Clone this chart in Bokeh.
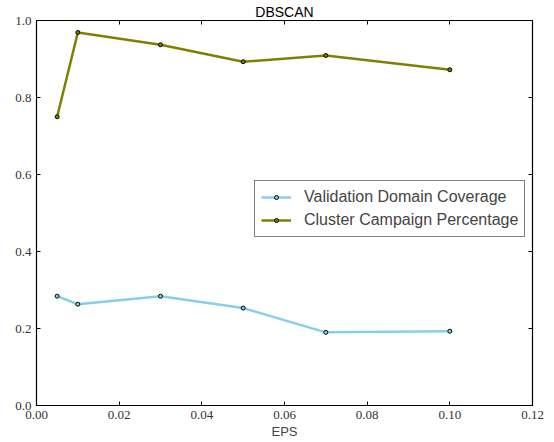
from bokeh.plotting import figure
from bokeh.models import (Range1d, LinearAxis, FixedTicker, Legend, LegendItem,
                          PrintfTickFormatter)
from bokeh.embed import file_html
from bokeh.resources import INLINE

eps = [0.005, 0.01, 0.03, 0.05, 0.07, 0.1]
validation_coverage = [0.284, 0.263, 0.284, 0.253, 0.190, 0.193]
cluster_percentage = [0.750, 0.969, 0.937, 0.893, 0.909, 0.872]
x_ticks = [0.0, 0.02, 0.04, 0.06, 0.08, 0.10, 0.12]
y_ticks = [0.0, 0.2, 0.4, 0.6, 0.8, 1.0]

p = figure(width=554, height=442, output_backend="svg", toolbar_location=None,
           x_range=Range1d(0, 0.12), y_range=Range1d(0, 1.0),
           x_axis_location=None, y_axis_location=None,
           min_border_left=36, min_border_right=22, min_border_bottom=37, min_border_top=0)
p.title.text = "DBSCAN"
p.title.align = "center"
p.title.text_font = "Liberation Sans"
p.title.text_font_style = "normal"
p.title.text_font_size = "14px"
p.title.text_color = "black"
p.title.standoff = 2
p.xgrid.visible = False
p.ygrid.visible = False
p.outline_line_color = "black"
p.outline_line_width = 1.2
p.background_fill_color = "white"
p.border_fill_color = "white"

def make_axis(ticks, fmt, labels=True):
    ax = LinearAxis(ticker=FixedTicker(ticks=ticks), formatter=PrintfTickFormatter(format=fmt),
                    major_tick_in=4, major_tick_out=0, minor_tick_in=0, minor_tick_out=0,
                    axis_line_color="black", major_tick_line_color="black",
                    major_label_text_font="Liberation Serif",
                    major_label_text_font_size="13px" if labels else "0px",
                    major_label_text_color="#333333",
                    major_label_standoff=5 if labels else 0)
    if not labels:
        ax.major_label_text_alpha = 0
    return ax

xb = make_axis(x_ticks, "%.2f")
xb.axis_label = "EPS"
xb.axis_label_text_font = "Liberation Sans"
xb.axis_label_text_font_style = "normal"
xb.axis_label_text_font_size = "13px"
xb.axis_label_standoff = 2
p.add_layout(xb, "below")

yl = make_axis(y_ticks, "%.1f")
p.add_layout(yl, "left")

p.add_layout(make_axis(x_ticks, "%.2f", labels=False), "above")
p.add_layout(make_axis(y_ticks, "%.1f", labels=False), "right")

l1 = p.line(eps, validation_coverage, line_color="#87CEEB", line_width=2.5)
s1 = p.scatter(eps, validation_coverage, size=4, fill_color="#87CEEB", line_color="black", line_width=1)
l2 = p.line(eps, cluster_percentage, line_color="#808000", line_width=2.5)
s2 = p.scatter(eps, cluster_percentage, size=4, fill_color="#808000", line_color="black", line_width=1)

legend = Legend(items=[LegendItem(label="Validation Domain Coverage", renderers=[l1, s1]),
                       LegendItem(label="Cluster Campaign Percentage", renderers=[l2, s2])],
                location=(218, 168))
legend.label_text_font = "Liberation Sans"
legend.label_text_font_size = "16px"
legend.border_line_color = "black"
legend.border_line_width = 1
legend.padding = 6
legend.spacing = 3
legend.glyph_width = 30
legend.label_standoff = 13
legend.label_height = 20
legend.glyph_height = 10
legend.margin = 0
p.add_layout(legend, "center")

open("out.html", "w").write(file_html(p, INLINE))
